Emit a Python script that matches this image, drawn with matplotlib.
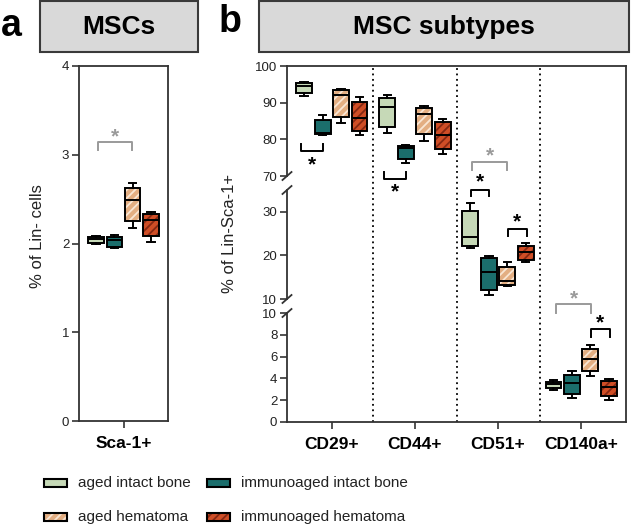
import matplotlib
matplotlib.use('Agg')
import matplotlib.pyplot as plt
from matplotlib.patches import Rectangle, PathPatch
from matplotlib.lines import Line2D

plt.rcParams['font.family'] = ['Liberation Sans', 'DejaVu Sans']
plt.rcParams['hatch.linewidth'] = 1.3

W, H = 631, 527

# marker groups: panel a has Sca-1+, panel b the rest
markers = ['Sca-1+', 'CD29+', 'CD44+', 'CD51+', 'CD140a+']
series_names = ['aged intact bone', 'immunoaged intact bone',
                'aged hematoma', 'immunoaged hematoma']

# (whisker low, q1, median, q3, whisker high) for each marker
aged_intact = [
    (2.00, 2.01, 2.05, 2.07, 2.08),
    (91.9, 92.7, 94.5, 95.4, 95.6),
    (81.8, 83.4, 88.9, 91.2, 92.0),
    (21.6, 22.2, 24.3, 30.2, 32.0),
    (2.9, 3.15, 3.45, 3.7, 3.85),
]
immuno_intact = [
    (1.95, 1.96, 2.04, 2.07, 2.10),
    (81.2, 81.5, 81.8, 85.2, 86.6),
    (73.5, 74.7, 77.6, 78.2, 78.5),
    (10.9, 12.1, 16.3, 19.5, 19.9),
    (2.2, 2.55, 3.55, 4.3, 4.7),
]
aged_hematoma = [
    (2.17, 2.25, 2.49, 2.63, 2.68),
    (84.4, 86.2, 92.1, 93.5, 93.8),
    (79.6, 81.4, 86.9, 88.6, 89.2),
    (13.0, 13.2, 14.2, 17.4, 18.4),
    (4.2, 4.7, 5.8, 6.7, 7.05),
]
immuno_hematoma = [
    (2.02, 2.08, 2.26, 2.33, 2.35),
    (81.2, 82.3, 85.7, 90.1, 91.5),
    (76.0, 77.5, 81.2, 84.7, 85.6),
    (18.6, 19.0, 20.8, 22.2, 22.9),
    (2.0, 2.4, 3.25, 3.75, 3.95),
]
all_series = [aged_intact, immuno_intact, aged_hematoma, immuno_hematoma]

face = ['#c6d9b7', '#1b6e6c', '#e3ae82', '#cf4e26']
hatch_col = [None, None, '#f9e6d3', '#862812']
offsets = [-0.333, -0.111, 0.111, 0.333]

spine_col = '#333333'
txt_col = '#222222'
grey = '#9a9a9a'


def rect(l, t, r, b):
    return [l / W, 1 - b / H, (r - l) / W, (b - t) / H]


def style_axis(ax):
    ax.set_facecolor('none')
    for s in ax.spines.values():
        s.set_color(spine_col)
        s.set_linewidth(1.3)
    ax.tick_params(axis='y', direction='out', length=5, width=1.2,
                   color=spine_col, labelsize=9.5, labelcolor=txt_col, pad=2)
    ax.tick_params(axis='x', direction='out', length=5, width=1.2,
                   color=spine_col, pad=6)


def draw_group(ax, gi, xpos):
    for si, data in enumerate(all_series):
        lo, q1, med, q3, hi = data[gi]
        st = [dict(whislo=lo, q1=q1, med=med, q3=q3, whishi=hi, fliers=[])]
        art = ax.bxp(st, positions=[xpos + offsets[si]], widths=0.19,
                     patch_artist=True, showfliers=False, capwidths=0.09,
                     manage_ticks=False,
                     boxprops=dict(facecolor=face[si], edgecolor='black', linewidth=1.4),
                     medianprops=dict(color='black', linewidth=1.4),
                     whiskerprops=dict(color='black', linewidth=1.4),
                     capprops=dict(color='black', linewidth=1.4))
        if hatch_col[si]:
            box = art['boxes'][0]
            hp = PathPatch(box.get_path(), facecolor=face[si],
                           edgecolor=hatch_col[si], hatch='////', lw=0,
                           zorder=box.get_zorder() - 0.01)
            ax.add_patch(hp)
            box.set_facecolor('none')


def bracket(ax, x1, x2, ybar, yleg, ystar, color):
    ax.plot([x1, x1, x2, x2], [yleg, ybar, ybar, yleg], color=color,
            lw=1.4, clip_on=False)
    ax.annotate('*', xy=((x1 + x2) / 2, ystar), xytext=(0, -8),
                textcoords='offset points', ha='center', va='baseline',
                fontsize=15, fontweight='bold', color=color,
                annotation_clip=False)


fig = plt.figure(figsize=(W / 100, H / 100), dpi=100)

# ---- panel a ----
ax_a = fig.add_axes(rect(79, 66, 168, 421))
style_axis(ax_a)
draw_group(ax_a, 0, 0)
ax_a.set_xlim(-0.54, 0.54)
ax_a.set_ylim(0, 4)
ax_a.set_yticks([0, 1, 2, 3, 4])
ax_a.set_xticks([0])
ax_a.set_xticklabels([markers[0]], fontsize=12.5, fontweight='bold', color='black')
bracket(ax_a, -0.31, 0.10, 3.14, 3.05, 3.27, grey)
fig.text(37 / W, 1 - 236 / H, '% of Lin- cells', rotation=90, ha='center',
         va='center', fontsize=12, color=txt_col)

# ---- panel b ----
L, R = 287, 626
ax_f = fig.add_axes(rect(L, 66, R, 422), zorder=0)
ax_f.set_facecolor('none')
ax_f.set_xlim(-0.54, 3.54)
ax_f.set_ylim(0, 1)
for s in ['left', 'bottom']:
    ax_f.spines[s].set_visible(False)
for s in ['top', 'right']:
    ax_f.spines[s].set_color(spine_col)
    ax_f.spines[s].set_linewidth(1.3)
ax_f.set_xticks([])
ax_f.set_yticks([])
for xv in [0.5, 1.5, 2.5]:
    ax_f.axvline(xv, color='black', lw=1.3, ls=(0, (1, 2)))

ax_top = fig.add_axes(rect(L, 66, R, 176), zorder=1)
ax_mid = fig.add_axes(rect(L, 190, R, 299), zorder=1)
ax_bot = fig.add_axes(rect(L, 313, R, 422), zorder=1)
limits = [(70, 100), (10, 35), (0, 10)]
yticks = [[70, 80, 90, 100], [10, 20, 30], [0, 2, 4, 6, 8, 10]]
for ax, lim, yt in zip([ax_top, ax_mid, ax_bot], limits, yticks):
    style_axis(ax)
    ax.set_xlim(-0.54, 3.54)
    ax.set_ylim(*lim)
    ax.set_yticks(yt)
    for s in ['top', 'right']:
        ax.spines[s].set_visible(False)
    if ax is not ax_bot:
        ax.spines['bottom'].set_visible(False)
        ax.set_xticks([])

for gi in range(1, 5):
    med = aged_intact[gi][2]
    for ax, (lo, hi) in zip([ax_top, ax_mid, ax_bot], limits):
        if lo <= med <= hi:
            draw_group(ax, gi, gi - 1)

ax_bot.set_xticks(range(4))
ax_bot.set_xticklabels(markers[1:], fontsize=12.5, fontweight='bold', color='black')

# significance brackets
bracket(ax_top, -0.37, -0.11, 76.8, 78.8, 74.6, 'black')
bracket(ax_top, 0.63, 0.894, 69.2, 71.1, 67.1, 'black')
bracket(ax_mid, 1.673, 1.897, 35.1, 33.6, 38.1, 'black')
bracket(ax_mid, 1.685, 2.11, 41.5, 39.6, 44.2, grey)
bracket(ax_mid, 2.118, 2.347, 26.0, 24.4, 28.9, 'black')
bracket(ax_bot, 2.699, 3.12, 10.8, 10.0, 11.8, grey)
bracket(ax_bot, 3.116, 3.349, 8.53, 7.77, 9.57, 'black')

# axis break marks
for py in [176, 190, 299, 313]:
    fig.add_artist(Line2D([(L - 4.5) / W, (L + 4.5) / W],
                          [1 - (py + 4) / H, 1 - (py - 4) / H],
                          color=spine_col, lw=1.3, transform=fig.transFigure))

fig.text(229 / W, 1 - 233 / H, '% of Lin-Sca-1+', rotation=90, ha='center',
         va='center', fontsize=12, color=txt_col)

# ---- title boxes ----
for (l, r, label) in [(40, 198, 'MSCs'), (259, 629, 'MSC subtypes')]:
    fig.add_artist(Rectangle((l / W, 1 - 52 / H), (r - l) / W, 51 / H,
                             transform=fig.transFigure, facecolor='#d9d9d9',
                             edgecolor='#3a3a3a', lw=1.5))
    fig.text((l + r) / 2 / W, 1 - 27 / H, label, ha='center', va='center',
             fontsize=19, fontweight='bold', color='black')
fig.text(11 / W, 1 - 26 / H, 'a', ha='center', va='center', fontsize=27,
         fontweight='bold', color='black')
fig.text(230 / W, 1 - 22 / H, 'b', ha='center', va='center', fontsize=27,
         fontweight='bold', color='black')

# ---- legend ----
leg_pos = [(44, 483), (207, 483), (44, 517), (207, 517)]
for si, (px, py) in enumerate(leg_pos):
    if hatch_col[si]:
        fig.add_artist(Rectangle((px / W, 1 - (py + 4) / H), 23 / W, 8 / H,
                                 transform=fig.transFigure, facecolor=face[si],
                                 edgecolor=hatch_col[si], hatch='////', lw=0))
        fig.add_artist(Rectangle((px / W, 1 - (py + 4) / H), 23 / W, 8 / H,
                                 transform=fig.transFigure, facecolor='none',
                                 edgecolor='black', lw=1.5))
    else:
        fig.add_artist(Rectangle((px / W, 1 - (py + 4) / H), 23 / W, 8 / H,
                                 transform=fig.transFigure, facecolor=face[si],
                                 edgecolor='black', lw=1.5))
    fig.text((px + 34) / W, 1 - py / H, series_names[si], ha='left',
             va='center', fontsize=11, color=txt_col)

fig.savefig('out.png', dpi=100)
